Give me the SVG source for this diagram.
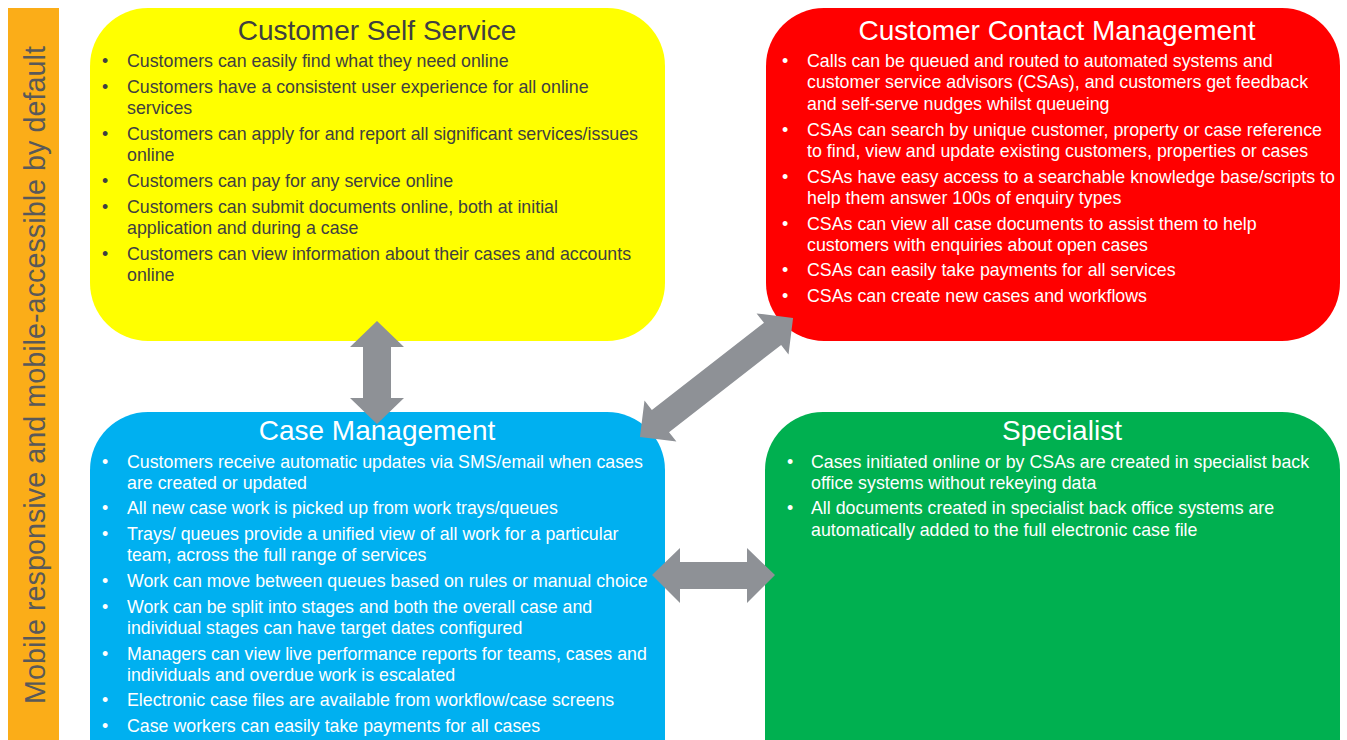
<svg xmlns="http://www.w3.org/2000/svg" width="1347" height="740" viewBox="0 0 1347 740">
<style>
text{font-family:"Liberation Sans",Arial,sans-serif}
.t{font-size:28px;text-anchor:middle}
.b{font-size:17.8px}
.dk{fill:#404040}
.wh{fill:#ffffff}
.arr{fill:#8E9196}
</style>
<rect x="0" y="0" width="1347" height="740" fill="#ffffff"/>
<g id="side-bar">
<rect x="8" y="8" width="51" height="740" fill="#FBAD18"/>
<text transform="translate(45,375) rotate(-90)" font-size="28.8" text-anchor="middle" fill="#595959">Mobile responsive and mobile-accessible by default</text>
</g>
<g id="customer-self-service">
<rect x="90" y="8" width="575" height="333" rx="58" fill="#FFFF00"/>
<text class="t dk" x="377" y="40">Customer Self Service</text>
<g class="b dk">
<text x="102" y="67">•</text><text x="127" y="67">Customers can easily find what they need online</text>
<text x="102" y="93">•</text><text x="127" y="93">Customers have a consistent user experience for all online</text>
<text x="127" y="114">services</text>
<text x="102" y="140">•</text><text x="127" y="140">Customers can apply for and report all significant services/issues</text>
<text x="127" y="161">online</text>
<text x="102" y="187">•</text><text x="127" y="187">Customers can pay for any service online</text>
<text x="102" y="213">•</text><text x="127" y="213">Customers can submit documents online, both at initial</text>
<text x="127" y="234">application and during a case</text>
<text x="102" y="260">•</text><text x="127" y="260">Customers can view information about their cases and accounts</text>
<text x="127" y="281">online</text>
</g>
</g>
<g id="customer-contact-management">
<rect x="766" y="8" width="574" height="333" rx="58" fill="#FF0000"/>
<text class="t wh" x="1057" y="40">Customer Contact Management</text>
<g class="b wh">
<text x="782" y="67">•</text><text x="807" y="67">Calls can be queued and routed to automated systems and</text>
<text x="807" y="88">customer service advisors (CSAs), and customers get feedback</text>
<text x="807" y="110">and self-serve nudges whilst queueing</text>
<text x="782" y="136">•</text><text x="807" y="136">CSAs can search by unique customer, property or case reference</text>
<text x="807" y="157">to find, view and update existing customers, properties or cases</text>
<text x="782" y="183">•</text><text x="807" y="183">CSAs have easy access to a searchable knowledge base/scripts to</text>
<text x="807" y="204">help them answer 100s of enquiry types</text>
<text x="782" y="230">•</text><text x="807" y="230">CSAs can view all case documents to assist them to help</text>
<text x="807" y="251">customers with enquiries about open cases</text>
<text x="782" y="276">•</text><text x="807" y="276">CSAs can easily take payments for all services</text>
<text x="782" y="302">•</text><text x="807" y="302">CSAs can create new cases and workflows</text>
</g>
</g>
<g id="case-management">
<rect x="90" y="412" width="575" height="400" rx="58" fill="#00B0F0"/>
<text class="t wh" x="377" y="440">Case Management</text>
<g class="b wh">
<text x="102" y="468">•</text><text x="127" y="468">Customers receive automatic updates via SMS/email when cases</text>
<text x="127" y="489">are created or updated</text>
<text x="102" y="514">•</text><text x="127" y="514">All new case work is picked up from work trays/queues</text>
<text x="102" y="540">•</text><text x="127" y="540">Trays/ queues provide a unified view of all work for a particular</text>
<text x="127" y="561">team, across the full range of services</text>
<text x="102" y="587">•</text><text x="127" y="587">Work can move between queues based on rules or manual choice</text>
<text x="102" y="613">•</text><text x="127" y="613">Work can be split into stages and both the overall case and</text>
<text x="127" y="634">individual stages can have target dates configured</text>
<text x="102" y="660">•</text><text x="127" y="660">Managers can view live performance reports for teams, cases and</text>
<text x="127" y="681">individuals and overdue work is escalated</text>
<text x="102" y="706">•</text><text x="127" y="706">Electronic case files are available from workflow/case screens</text>
<text x="102" y="732">•</text><text x="127" y="732">Case workers can easily take payments for all cases</text>
</g>
</g>
<g id="specialist">
<rect x="765" y="412" width="575" height="400" rx="58" fill="#00B050"/>
<text class="t wh" x="1062" y="440">Specialist</text>
<g class="b wh">
<text x="787" y="468">•</text><text x="811" y="468">Cases initiated online or by CSAs are created in specialist back</text>
<text x="811" y="489">office systems without rekeying data</text>
<text x="787" y="514">•</text><text x="811" y="514">All documents created in specialist back office systems are</text>
<text x="811" y="536">automatically added to the full electronic case file</text>
</g>
</g>
<g id="connectors" class="arr">
<polygon points="377,321 404,347 391,347 391,398 404,398 377,424 350,398 363,398 363,347 350,347"/>
<polygon points="652,575 680,548 680,562 747,562 747,548 775,575 747,603 747,589 680,589 680,603"/>
<polygon transform="translate(716.5,377.5) rotate(-37.87)" points="-97,0 -71,-26 -71,-14 71,-14 71,-26 97,0 71,26 71,14 -71,14 -71,26"/>
</g>
</svg>
